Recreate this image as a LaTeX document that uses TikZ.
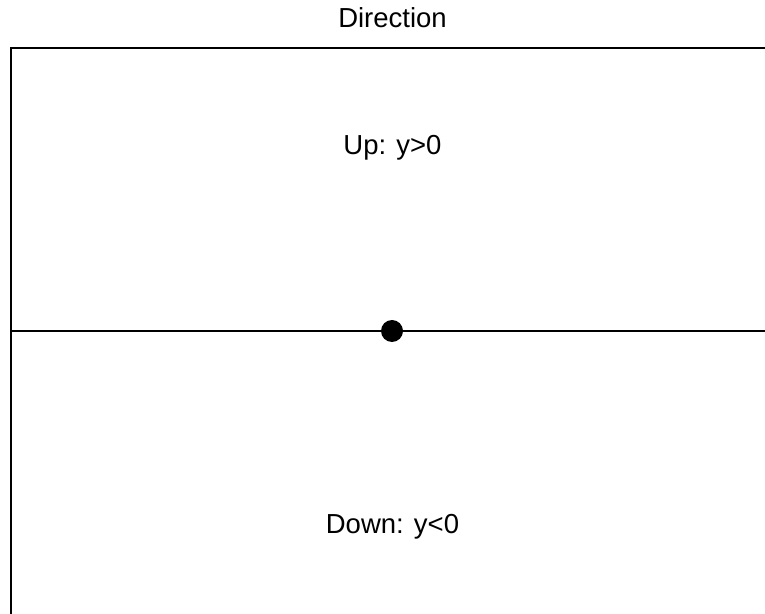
\documentclass[tikz,border=0pt]{standalone}
\usepackage{fontspec}
\setmainfont{Liberation Sans}
\usetikzlibrary{positioning}

\begin{document}
\begin{tikzpicture}[x=1pt, y=1pt,
  every node/.style={font=\fontsize{27.5}{32}\selectfont},
  label/.style={anchor=base, inner sep=0pt},
  frame/.style={draw=black, line width=1.6pt},
  origin/.style={circle, fill=black, inner sep=0pt, minimum size=22pt},
]
\useasboundingbox (0,0) rectangle (765,613);
\clip (0,0) rectangle (765,613);

% Frame (runs past the right and bottom edges)
\coordinate (tl) at (11,565);
\coordinate (br) at (775,-10);
\draw[frame] (tl) rectangle (br);

% Axis and origin
\coordinate (axL) at (11,282);
\coordinate (axR) at (775,282);
\draw[frame] (axL) -- (axR);
\node[origin] (o) at (392,282) {};

% Labels
\node[label] (title) at (392.5,585) {Direction};
\node[label] (up) at (392.5,458) {Up: y>0};
\node[label] (down) at (392.5,80) {Down: y<0};
\end{tikzpicture}
\end{document}
